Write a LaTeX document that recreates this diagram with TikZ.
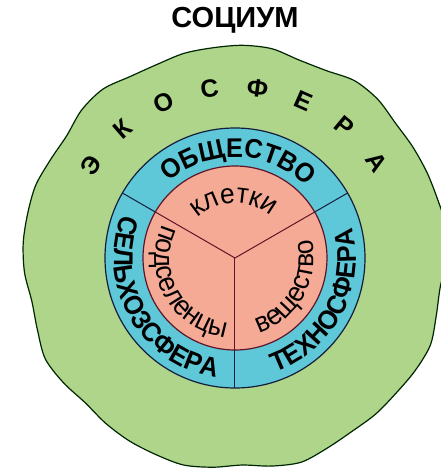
\documentclass[tikz,border=0pt]{standalone}
\usepackage{fontspec}
\setmainfont{Liberation Sans}
\newfontfamily\narrowsans[FakeStretch=0.94]{Liberation Sans}
\usepackage{tikz}
\usetikzlibrary{decorations.text}

\definecolor{ecogreen}{RGB}{174,213,138}
\definecolor{ringblue}{RGB}{94,199,216}
\definecolor{corepink}{RGB}{245,170,150}
\definecolor{ringline}{RGB}{20,30,60}
\definecolor{coreline}{RGB}{95,20,40}

\newcommand{\ringfont}{\narrowsans\fontsize{27}{27}\selectfont\bfseries}
\newcommand{\corefont}{\narrowsans\fontsize{28}{28}\selectfont}

\begin{document}
\begin{tikzpicture}[
    x=1pt, y=1pt,
    title/.style={
		font=\fontsize{29}{29}\selectfont\bfseries
	},
    ecoletter/.style={
		font=\fontsize{25}{25}\selectfont\bfseries,
		inner sep=0pt
	},
    disc/.style={
		circle,
		inner sep=0pt,
		outer sep=0pt,
		line width=1.2pt
	},
    ringtext/.style={
		decorate,
		decoration={text along path, text align=center, text={|\ringfont|#1}}
	},
    coretext/.style={
		decorate,
		decoration={text along path, text align=center, text={|\corefont|#1}}
	}
  ]
  \useasboundingbox (-235,-214) rectangle (205,258);

  % the wavy outer sphere first
  \draw [fill=ecogreen, draw=black!85!green, line width=1.2pt]
    plot [smooth cycle, samples=45, domain=0:352]
    (\x:{211+2.5*sin(9*\x)+1.5*sin(14*\x+50)});

  \node [title] (socium) at (0,238) {СОЦИУМ};

  \foreach \l [count=\i] in {Э,К,О,С,Ф,Е,Р,А}
    \node [ecoletter, rotate={57-16.14*(\i-1)}] (eco\i) at ({147-16.14*(\i-1)}:171) {\l};

  % then the rings
  \node [disc, fill=ringblue, draw=ringline, minimum size=260] (ring) at (0,0) {};
  \node [disc, fill=corepink, draw=coreline, minimum size=184] (core) at (0,0) {};
  \coordinate (hub) at (0,0);

  \foreach \a in {30,150,270} {
    \draw [ringline, line width=1pt] (core.\a) -- (ring.\a);
    \draw [coreline, line width=1pt] (hub) -- (core.\a);
  }

  \path [ringtext=ОБЩЕСТВО] (178:101) arc [start angle=178, end angle=-2, radius=101];
  \path [ringtext=СЕЛЬХОЗСФЕРА] (120:121) arc [start angle=120, end angle=300, radius=121];
  \path [ringtext=ТЕХНОСФЕРА] (242:121) arc [start angle=242, end angle=422, radius=121];

  \path [coretext=клетки] (181:55) arc [start angle=181, end angle=1, radius=55];
  \path [coretext=подселенцы] (119:80) arc [start angle=119, end angle=299, radius=80];
  \path [coretext=вещество] (241:79) arc [start angle=241, end angle=421, radius=79];

\end{tikzpicture}
\end{document}
